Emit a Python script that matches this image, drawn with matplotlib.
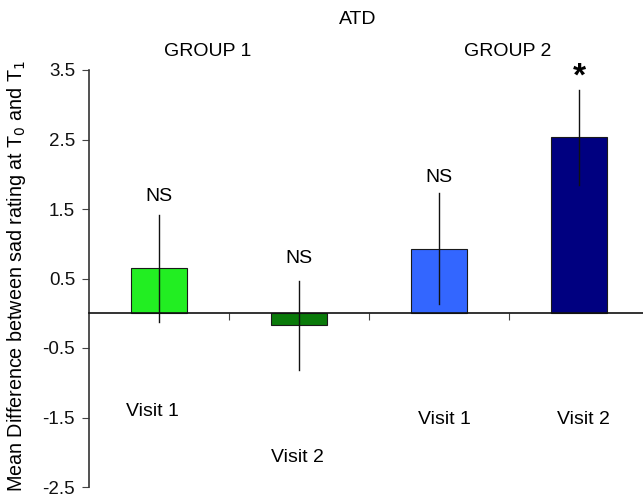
import matplotlib
matplotlib.use("Agg")
import matplotlib.pyplot as plt

plt.rcParams['font.family'] = ['Liberation Sans', 'DejaVu Sans']

visits = ["Visit 1", "Visit 2", "Visit 1", "Visit 2"]
groups = ["GROUP 1", "GROUP 2"]
means = [0.65, -0.17, 0.93, 2.53]
errors = [0.77, 0.64, 0.80, 0.68]
signif = ["NS", "NS", "NS", "*"]
colors = ["#22EE22", "#0A7A0A", "#3366FF", "#000080"]
yticks = [3.5, 2.5, 1.5, 0.5, -0.5, -1.5, -2.5]

W, H = 643, 501
fig = plt.figure(figsize=(W / 100, H / 100), dpi=100)
ax = fig.add_axes([89 / W, (H - 487) / H, 1 - 89 / W, (487 - 70) / H])

x = [0.5, 1.5, 2.5, 3.5]
ax.bar(x, means, width=0.4, color=colors, edgecolor="#1a1a1a", linewidth=0.8, zorder=2)
for xi, m, e in zip(x, means, errors):
    ax.plot([xi, xi], [m - e, m + e], color="#111111", lw=1.0, zorder=3)

ax.set_xlim(0, (W - 89) / 140)
ax.set_ylim(-2.5, 3.5)
ax.set_yticks(yticks)
ax.set_yticklabels([f"{t:.1f}" for t in yticks])
ax.spines['top'].set_visible(False)
ax.spines['right'].set_visible(False)
ax.spines['bottom'].set_position(('data', 0))
ax.spines['left'].set_linewidth(1.2)
ax.spines['left'].set_color("#333333")
ax.spines['bottom'].set_linewidth(1.2)
ax.spines['bottom'].set_color("#111111")
ax.set_xticks([1, 2, 3])
ax.set_xticklabels([])
ax.tick_params(axis='x', direction='out', length=5, width=0.8, color="#444444")
ax.tick_params(axis='y', direction='out', length=5, width=0.8, labelsize=13.5, pad=5, color="#444444",
               labelcolor="#111111")

fs = 14
# signif labels
sig_y = [1.68, 0.79, 1.96, 3.40]
for xi, s, sy in zip(x, signif, sig_y):
    if s == "*":
        ax.text(xi, sy, s, ha='center', va='center', fontsize=24, fontweight='bold', clip_on=False)
    else:
        ax.text(xi, sy, s, ha='center', va='center', fontsize=fs, clip_on=False)

# visit labels
vis_pos = [(0.45, -1.42), (1.49, -2.07), (2.54, -1.53), (3.53, -1.53)]
for lab, (vx, vy) in zip(visits, vis_pos):
    ax.text(vx, vy, lab, ha='center', va='center', fontsize=fs, clip_on=False)

ax.text(0.85, 3.77, groups[0], ha='center', va='center', fontsize=fs, clip_on=False)
ax.text(2.99, 3.76, groups[1], ha='center', va='center', fontsize=fs, clip_on=False)
ax.text(1.92, 4.22, "ATD", ha='center', va='center', fontsize=fs, clip_on=False)

fig.text(17 / W, 1 - 276 / H, "Mean Difference between sad rating at T$_0$ and T$_1$",
         rotation=90, ha='center', va='center', fontsize=14.2)

fig.savefig("out.png", dpi=100)
